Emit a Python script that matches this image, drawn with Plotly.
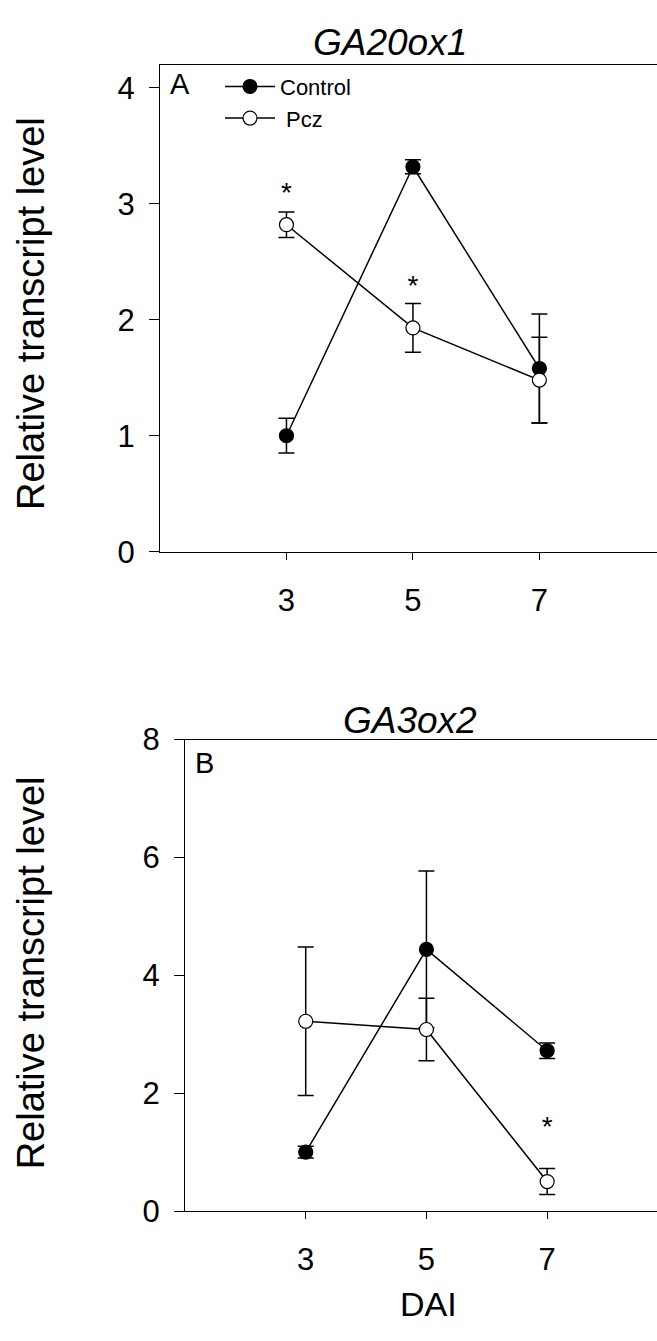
import plotly.graph_objects as go

days = [3, 5, 7]
day_labels = ["3", "5", "7"]

# Panel A: GA20ox1
a_control = [1.00, 3.32, 1.58]
a_control_err = [0.15, 0.06, 0.47]
a_pcz = [2.82, 1.93, 1.48]
a_pcz_err = [0.11, 0.21, 0.37]
a_star_x = [3, 5]
a_star_y = [3.08, 2.27]

# Panel B: GA3ox2
b_control = [1.00, 4.44, 2.72]
b_control_err = [0.10, 1.33, 0.13]
b_pcz = [3.22, 3.08, 0.50]
b_pcz_err = [1.26, 0.53, 0.22]
b_star_x = [7]
b_star_y = [1.40]

W, H = 657, 1341
FONT = "Liberation Sans, Arial, sans-serif"

fig = go.Figure()

def add_series(y, err, xa, ya, filled, name, show):
    fig.add_trace(go.Scatter(
        x=days, y=y, xaxis=xa, yaxis=ya, name=name, showlegend=show,
        mode="lines+markers",
        line=dict(color="black", width=1.5),
        marker=dict(size=14, symbol="circle",
                    color="black" if filled else "white",
                    line=dict(color="black", width=1.2)),
        error_y=dict(type="data", array=err, visible=True,
                     color="black", thickness=1.5, width=8),
    ))

add_series(a_control, a_control_err, "x", "y", True, "Control", True)
add_series(a_pcz, a_pcz_err, "x", "y", False, " Pcz", True)
add_series(b_control, b_control_err, "x2", "y2", True, "Control", False)
add_series(b_pcz, b_pcz_err, "x2", "y2", False, " Pcz", False)

# significance stars
fig.add_trace(go.Scatter(x=a_star_x, y=a_star_y, xaxis="x", yaxis="y", mode="text",
                         text=["*"] * len(a_star_x), showlegend=False,
                         textfont=dict(size=28, color="black", family=FONT)))
fig.add_trace(go.Scatter(x=b_star_x, y=b_star_y, xaxis="x2", yaxis="y2", mode="text",
                         text=["*"] * len(b_star_x), showlegend=False,
                         textfont=dict(size=28, color="black", family=FONT)))

def px_x(p):
    return p / W

def px_y(p):
    return 1 - p / H

TICKFONT = dict(size=31, color="black", family=FONT)
x_common = dict(showline=True, linecolor="black", linewidth=1, ticks="outside",
                ticklen=7, tickcolor="black", tickwidth=1, showgrid=False,
                zeroline=False, tickfont=TICKFONT, ticklabelstandoff=14)
y_common = dict(showline=True, linecolor="black", linewidth=1, ticks="outside",
                ticklen=10, tickcolor="black", tickwidth=1, showgrid=False,
                zeroline=False, tickfont=TICKFONT, ticklabelstandoff=8)

fig.update_layout(
    width=W, height=H, margin=dict(l=0, r=0, t=0, b=0),
    paper_bgcolor="white", plot_bgcolor="white",
    font=dict(family=FONT, color="black"),
    xaxis=dict(domain=[px_x(160), 1.0], range=[1, 8.86], tickvals=days, ticktext=day_labels,
               anchor="y", mirror=True, **x_common),
    yaxis=dict(domain=[px_y(549), px_y(49)], range=[0, 4.2], tickvals=[0, 1, 2, 3, 4],
               anchor="x", **y_common),
    xaxis2=dict(domain=[px_x(185), 1.0], range=[1, 8.82], tickvals=days, ticktext=day_labels,
                anchor="y2", mirror=True, **x_common),
    yaxis2=dict(domain=[px_y(1226), px_y(742)], range=[0, 8], tickvals=[0, 2, 4, 6, 8],
                anchor="x2", **y_common),
    legend=dict(x=px_x(220), y=px_y(50), xanchor="left", yanchor="top",
                bgcolor="rgba(0,0,0,0)", font=dict(size=22, family=FONT, color="black"),
                itemwidth=50, tracegroupgap=0),
)

ann = [
    dict(text="<i>GA20ox1</i>", x=px_x(390), y=px_y(26), size=37),
    dict(text="<i>GA3ox2</i>", x=px_x(410), y=px_y(722), size=37),
    dict(text="A", x=px_x(180), y=px_y(69), size=29),
    dict(text="B", x=px_x(204), y=px_y(766), size=29),
    dict(text="DAI", x=px_x(428), y=px_y(1322), size=34),
]
for a in ann:
    fig.add_annotation(text=a["text"], x=a["x"], y=a["y"], xref="paper", yref="paper",
                       showarrow=False, xanchor="center", yanchor="middle",
                       font=dict(size=a["size"], family=FONT, color="black"))

for yc in [305, 982]:
    fig.add_annotation(text="Relative transcript level", x=px_x(31), y=px_y(yc),
                       xref="paper", yref="paper", showarrow=False, textangle=-90,
                       xanchor="center", yanchor="middle",
                       font=dict(size=38, family=FONT, color="black"))

fig.write_html("out.html")
